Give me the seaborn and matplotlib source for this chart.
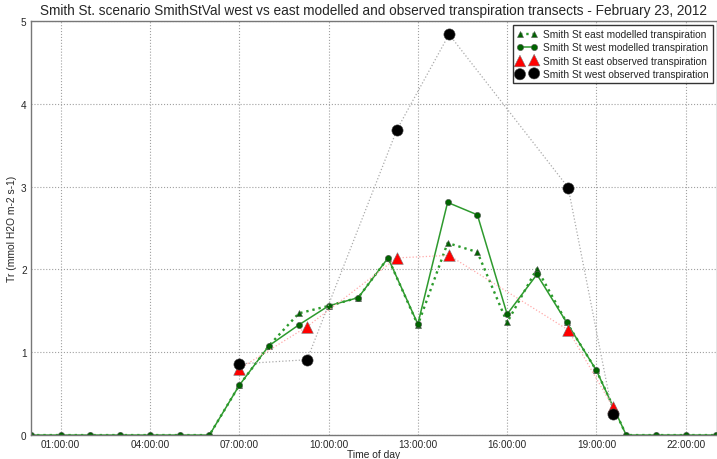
import matplotlib
matplotlib.use("Agg")
import matplotlib.pyplot as plt
import seaborn as sns
import numpy as np
from matplotlib.ticker import FuncFormatter, FixedLocator

# modelled transpiration, hourly
hours = list(range(0, 24))
east_modelled = [0, 0, 0, 0, 0, 0, 0, 0.60, 1.08, 1.47, 1.56, 1.66, 2.14, 1.33,
                 2.32, 2.21, 1.36, 2.01, 1.36, 0.78, 0, 0, 0, 0]
west_modelled = [0, 0, 0, 0, 0, 0, 0, 0.60, 1.08, 1.33, 1.56, 1.66, 2.14, 1.34,
                 2.81, 2.66, 1.46, 1.94, 1.36, 0.78, 0, 0, 0, 0]

# observed transects
obs_hours = [7.0, 9.28, 12.3, 14.05, 18.05, 19.55]
east_observed = [0.80, 1.31, 2.14, 2.17, 1.27, 0.34]
west_observed = [0.86, 0.91, 3.69, 4.84, 2.99, 0.25]

tick_hours = [1, 4, 7, 10, 13, 16, 19, 22]

sns.set_style("white")
plt.rcParams['font.family'] = ['Liberation Sans', 'DejaVu Sans']

fig = plt.figure(figsize=(7.17, 4.6), dpi=100)
ax = fig.add_axes([0.043, 0.052, 0.957, 0.9])

sns.lineplot(x=hours, y=east_modelled, ax=ax, color='#2b9b2b', linestyle=':', lw=1.7,
             marker='^', markersize=4.5, markerfacecolor='darkgreen', markeredgecolor='#555555',
             markeredgewidth=0.4, label='Smith St east modelled transpiration')
sns.lineplot(x=hours, y=west_modelled, ax=ax, color='#2e9a2e', linestyle='-', lw=1.1,
             marker='o', markersize=4.5, markerfacecolor='darkgreen', markeredgecolor='#555555',
             markeredgewidth=0.4, label='Smith St west modelled transpiration')

# thin dotted connectors for the observations
sns.lineplot(x=obs_hours, y=east_observed, ax=ax, color='#ffaaaa', linestyle=':', lw=0.9,
             legend=False)
sns.lineplot(x=obs_hours, y=west_observed, ax=ax, color='#aaaaaa', linestyle=':', lw=0.9,
             legend=False)

sns.scatterplot(x=obs_hours, y=east_observed, ax=ax, marker='^', s=70, color='red',
                edgecolor='#777777', linewidth=0.4, zorder=4,
                label='Smith St east observed transpiration')
sns.scatterplot(x=obs_hours, y=west_observed, ax=ax, marker='o', s=65, color='black',
                edgecolor='#444444', linewidth=0.4, zorder=4,
                label='Smith St west observed transpiration')

ax.set_xlim(0, 23.05)
ax.set_ylim(0, 5)
ax.xaxis.set_major_locator(FixedLocator(tick_hours))
ax.xaxis.set_major_formatter(FuncFormatter(lambda v, p: f'{int(round(v)):02d}:00:00'))
ax.set_yticks(range(0, 6))
ax.grid(True, linestyle=':', color='#a0a0a0', lw=0.8)
ax.tick_params(labelsize=7.2, length=0, pad=3)
for s in ax.spines.values():
    s.set_color('#777777')
    s.set_linewidth(1.0)

ax.set_title('Smith St. scenario SmithStVal west vs east modelled and observed transpiration '
             'transects - February 23, 2012', fontsize=9.8, pad=5)
ax.set_xlabel('Time of day', fontsize=7.4, labelpad=0)
ax.set_ylabel('Tr (mmol H2O m-2 s-1)', fontsize=7.4, labelpad=3)

leg = ax.legend(loc='upper right', fontsize=7.3, numpoints=2, scatterpoints=2,
                fancybox=False, frameon=True, borderaxespad=0.4, handlelength=2.0,
                labelspacing=0.32, borderpad=0.4, handletextpad=0.6)
leg.get_frame().set_edgecolor('black')
leg.get_frame().set_linewidth(1.0)

fig.savefig('out.png', dpi=100)
